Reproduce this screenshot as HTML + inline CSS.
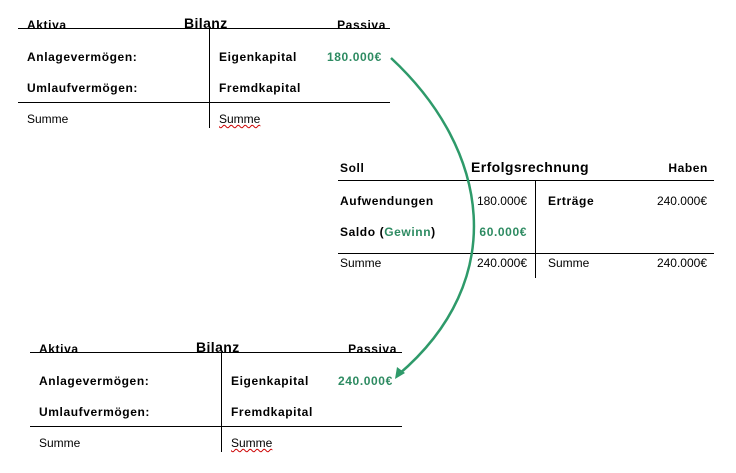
<!DOCTYPE html>
<html><head><meta charset="utf-8"><style>
body{margin:0;width:736px;height:473px;background:#fff;position:relative;overflow:hidden;font-family:"Liberation Sans",Arial,sans-serif;font-size:12px;color:#000}
.t{position:absolute;white-space:nowrap;line-height:14px}
.b{font-weight:bold;letter-spacing:0.6px}
.h{font-size:14px;font-weight:bold;letter-spacing:0.4px}
.g{color:#2e8b62}
.r{text-align:right}
.hl{position:absolute;height:1px;background:#000}
.vl{position:absolute;width:1px;background:#000}
.u{text-decoration:underline wavy #c00;text-decoration-thickness:1px}
</style></head><body>
<!-- Table 1 -->
<div class="hl" style="left:18px;top:28px;width:372px"></div>
<div class="hl" style="left:18px;top:102px;width:372px"></div>
<div class="vl" style="left:209px;top:28px;height:100px"></div>
<div class="t b" style="left:27px;top:18px">Aktiva</div>
<div class="t h" style="left:184px;top:16px">Bilanz</div>
<div class="t b r" style="left:300px;width:86px;top:18px">Passiva</div>
<div class="t b" style="left:27px;top:50px">Anlagevermögen:</div>
<div class="t b" style="left:27px;top:81px">Umlaufvermögen:</div>
<div class="t" style="left:27px;top:112px">Summe</div>
<div class="t b" style="left:219px;top:50px">Eigenkapital</div>
<div class="t b g" style="left:327px;top:50px">180.000€</div>
<div class="t b" style="left:219px;top:81px">Fremdkapital</div>
<div class="t u" style="left:219px;top:112px">Summe</div>
<!-- Table 2 -->
<div class="hl" style="left:338px;top:180px;width:376px"></div>
<div class="hl" style="left:338px;top:253px;width:376px"></div>
<div class="vl" style="left:535px;top:180px;height:98px"></div>
<div class="t b" style="left:340px;top:161px">Soll</div>
<div class="t h" style="left:471px;top:160px">Erfolgsrechnung</div>
<div class="t b r" style="left:640px;width:68px;top:161px">Haben</div>
<div class="t b" style="left:340px;top:194px">Aufwendungen</div>
<div class="t r" style="left:440px;width:87px;top:194px">180.000€</div>
<div class="t b" style="left:548px;top:194px">Erträge</div>
<div class="t r" style="left:600px;width:107px;top:194px">240.000€</div>
<div class="t b" style="left:340px;top:225px">Saldo (<span class="g">Gewinn</span>)</div>
<div class="t b g r" style="left:440px;width:87px;top:225px">60.000€</div>
<div class="t" style="left:340px;top:256px">Summe</div>
<div class="t r" style="left:440px;width:87px;top:256px">240.000€</div>
<div class="t" style="left:548px;top:256px">Summe</div>
<div class="t r" style="left:600px;width:107px;top:256px">240.000€</div>
<!-- Table 3 -->
<div class="hl" style="left:30px;top:352px;width:372px"></div>
<div class="hl" style="left:30px;top:426px;width:372px"></div>
<div class="vl" style="left:221px;top:352px;height:100px"></div>
<div class="t b" style="left:39px;top:342px">Aktiva</div>
<div class="t h" style="left:196px;top:340px">Bilanz</div>
<div class="t b r" style="left:310px;width:87px;top:342px">Passiva</div>
<div class="t b" style="left:39px;top:374px">Anlagevermögen:</div>
<div class="t b" style="left:39px;top:405px">Umlaufvermögen:</div>
<div class="t" style="left:39px;top:436px">Summe</div>
<div class="t b" style="left:231px;top:374px">Eigenkapital</div>
<div class="t b g" style="left:338px;top:374px">240.000€</div>
<div class="t b" style="left:231px;top:405px">Fremdkapital</div>
<div class="t u" style="left:231px;top:436px">Summe</div>
<svg width="736" height="473" style="position:absolute;left:0;top:0">
<path d="M391,58 C490,150 510,280 398,375" fill="none" stroke="#2e9a6a" stroke-width="2.5"/>
<polygon points="395,379 397,367 405,373" fill="#2e9a6a"/>
</svg>
</body></html>
